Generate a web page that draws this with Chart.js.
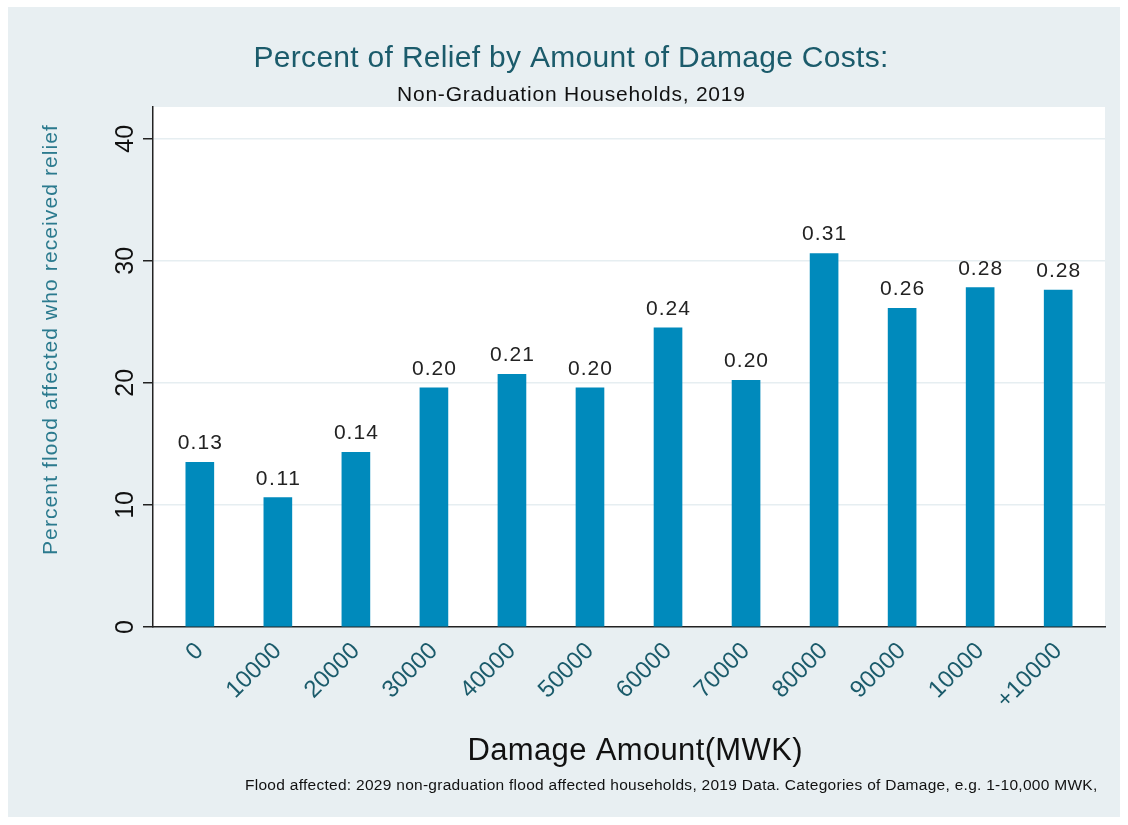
<!DOCTYPE html>
<html>
<head>
<meta charset="utf-8">
<script src="https://cdn.jsdelivr.net/npm/chart.js@4/dist/chart.umd.min.js"></script>
<style>
  html, body { margin: 0; padding: 0; background: #ffffff; }
  #wrap { width: 1128px; height: 825px; position: relative; }
</style>
</head>
<body>
<div id="wrap"><canvas id="c" width="1128" height="825"></canvas></div>
<script>
// ---- Data ----
const categories = ["0", "10000", "20000", "30000", "40000", "50000", "60000", "70000", "80000", "90000", "10000", "+10000"];
const reliefPercent = [13.5, 10.6, 14.3, 19.6, 20.7, 19.6, 24.5, 20.2, 30.6, 26.1, 27.8, 27.6];
const barLabels = ["0.13", "0.11", "0.14", "0.20", "0.21", "0.20", "0.24", "0.20", "0.31", "0.26", "0.28", "0.28"];
const yTicks = [0, 10, 20, 30, 40];

const titleText = "Percent of Relief by Amount of Damage Costs:";
const subtitleText = "Non-Graduation Households, 2019";
const xTitleText = "Damage Amount(MWK)";
const yTitleText = "Percent flood affected who received relief";
const noteText = "Flood affected: 2029 non-graduation flood affected households, 2019 Data. Categories of Damage, e.g. 1-10,000 MWK,";

const FONT = "'Liberation Sans', Arial, Helvetica, sans-serif";
const PANEL = "#e8eff2";
const TEAL_DARK = "#1b5b6b";
const TEAL = "#2b7a8e";

// draw text with letter spacing so that it spans a target width
function drawSpaced(ctx, text, x, y, size, targetWidth, align) {
  ctx.font = size + "px " + FONT;
  if ('letterSpacing' in ctx) ctx.letterSpacing = "0px";
  const w = ctx.measureText(text).width;
  if ('letterSpacing' in ctx && text.length > 1) {
    const sp = (targetWidth - w) / (text.length - 1);
    ctx.letterSpacing = sp.toFixed(2) + "px";
  }
  ctx.textAlign = 'left';
  let x0 = x;
  if (align === 'center') x0 = x - targetWidth / 2;
  ctx.fillText(text, x0, y);
  if ('letterSpacing' in ctx) ctx.letterSpacing = "0px";
}

const backgroundPlugin = {
  id: 'bg',
  beforeDraw(chart) {
    const ctx = chart.ctx, a = chart.chartArea;
    ctx.save();
    ctx.fillStyle = "#ffffff";
    ctx.fillRect(0, 0, chart.width, chart.height);
    ctx.fillStyle = PANEL;
    ctx.fillRect(8, 7, 1112, 810);
    ctx.fillStyle = "#ffffff";
    ctx.fillRect(a.left, a.top, a.right - a.left, a.bottom - a.top);
    ctx.restore();
  }
};

const textPlugin = {
  id: 'texts',
  afterDraw(chart) {
    const ctx = chart.ctx;
    ctx.save();
    ctx.textBaseline = 'alphabetic';
    ctx.fillStyle = TEAL_DARK;
    drawSpaced(ctx, titleText, 571, 67, 30, 635, 'center');
    ctx.fillStyle = "#111111";
    drawSpaced(ctx, subtitleText, 571, 101, 21, 348, 'center');
    drawSpaced(ctx, xTitleText, 635, 760, 31, 335, 'center');
    drawSpaced(ctx, noteText, 245, 790, 15.5, 852, 'left');
    // y title
    ctx.translate(57, 340);
    ctx.rotate(-Math.PI / 2);
    ctx.fillStyle = TEAL;
    drawSpaced(ctx, yTitleText, 0, 0, 21, 430, 'center');
    ctx.restore();

    // bar value labels
    const meta = chart.getDatasetMeta(0);
    ctx.save();
    ctx.fillStyle = "#222222";
    ctx.textBaseline = 'alphabetic';
    meta.data.forEach((bar, i) => {
      drawSpaced(ctx, barLabels[i], bar.x, bar.y - 13, 21, 44, 'center');
    });
    ctx.restore();
  }
};

const points = reliefPercent.map((v, i) => ({ x: i, y: v }));

new Chart(document.getElementById('c'), {
  type: 'bar',
  data: {
    datasets: [{
      data: points,
      backgroundColor: "#008abc",
      borderWidth: 0,
      barThickness: 28
    }]
  },
  options: {
    responsive: false,
    animation: false,
    devicePixelRatio: 1,
    layout: { padding: { left: 20, right: 23, top: 107, bottom: 0 } },
    plugins: { legend: { display: false }, tooltip: { enabled: false }, title: { display: false } },
    scales: {
      x: {
        type: 'linear',
        offset: false,
        min: -0.6,
        max: 11.6,
        afterBuildTicks(scale) { scale.ticks = categories.map((_, i) => ({ value: i })); },
        afterFit(scale) { scale.height = 198; },
        grid: { display: false, drawTicks: false },
        border: { display: true, color: "#222222", width: 1.5 },
        ticks: {
          autoSkip: false,
          minRotation: 45,
          maxRotation: 45,
          padding: 10,
          color: TEAL_DARK,
          font: { family: FONT, size: 24 },
          callback: (v) => categories[v]
        }
      },
      y: {
        min: 0,
        max: 42.6,
        afterBuildTicks(scale) { scale.ticks = yTicks.map(v => ({ value: v })); },
        afterFit(scale) { scale.width = 133; },
        grid: { color: "#e6eef1", lineWidth: 1.5, tickColor: "#222222", tickLength: 10 },
        border: { display: true, color: "#222222", width: 1.5 },
        ticks: {
          minRotation: 90,
          maxRotation: 90,
          crossAlign: 'center',
          padding: 3,
          color: "#111111",
          font: { family: FONT, size: 25 }
        }
      }
    }
  },
  plugins: [backgroundPlugin, textPlugin]
});
</script>
</body>
</html>
